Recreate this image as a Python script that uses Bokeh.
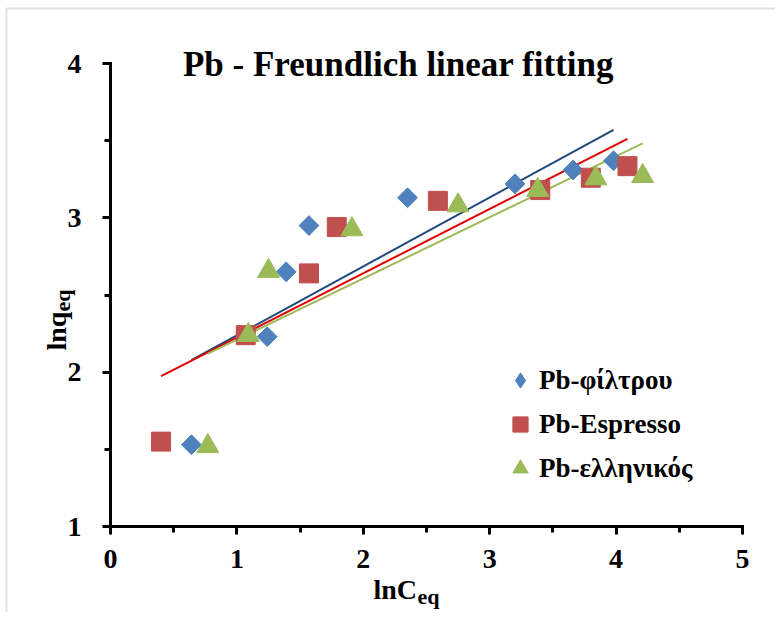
import numpy as np
from bokeh.plotting import figure
from bokeh.models import (Label, Legend, LegendItem, SingleIntervalTicker, Range1d,
                          BoxAnnotation)
from bokeh.embed import file_html
from bokeh.resources import INLINE

# ---- data ----
title_text = "Pb - Freundlich linear fitting"
x_label_main, x_label_sub = "lnC", "eq"
y_label_main, y_label_sub = "lnq", "eq"
series_names = ["Pb-φίλτρου", "Pb-Espresso", "Pb-ελληνικός"]

filtrou_x = [0.64, 1.24, 1.39, 1.57, 2.35, 3.20, 3.66, 3.98]
filtrou_y = [1.53, 2.23, 2.65, 2.95, 3.13, 3.22, 3.31, 3.37]

espresso_x = [0.40, 1.07, 1.57, 1.79, 2.59, 3.40, 3.80, 4.09]
espresso_y = [1.55, 2.24, 2.64, 2.94, 3.11, 3.18, 3.26, 3.335]

elliniko_x = [0.77, 1.09, 1.25, 1.91, 2.75, 3.38, 3.84, 4.21]
elliniko_y = [1.52, 2.24, 2.655, 2.925, 3.08, 3.18, 3.255, 3.27]

x_min, x_max = 0, 5
y_min, y_max = 1, 4

FONT = "Liberation Serif"

# ---- layout (pixels of the canvas) ----
W, H = 775, 612
AX_LEFT, AX_RIGHT = 110, 742      # pixel of x_min / x_max
AX_TOP, AX_BOTTOM = 63, 526       # pixel of y_max / y_min
ppx = (AX_RIGHT - AX_LEFT) / (x_max - x_min)
ppy = (AX_BOTTOM - AX_TOP) / (y_max - y_min)


def linear_fit(xs, ys):
    k, b = np.polyfit(xs, ys, 1)
    xx = np.array([min(xs), max(xs)])
    return xx, k * xx + b


p = figure(width=W, height=H,
           x_range=Range1d(x_min - AX_LEFT / ppx, x_max + (W - AX_RIGHT) / ppx),
           y_range=Range1d(y_min - (H - AX_BOTTOM) / ppy, y_max + AX_TOP / ppy),
           output_backend="svg", toolbar_location=None,
           min_border_left=0, min_border_right=0,
           min_border_top=0, min_border_bottom=0)
p.title.text = ""
p.title.visible = False
p.outline_line_color = None
p.grid.visible = False
p.background_fill_color = "white"
p.border_fill_color = "white"

p.xaxis.ticker = SingleIntervalTicker(interval=1, num_minor_ticks=2)
p.yaxis.ticker = SingleIntervalTicker(interval=1, num_minor_ticks=2)
p.xaxis.fixed_location = y_min
p.yaxis.fixed_location = x_min
p.xaxis.bounds = (x_min, x_max)
p.yaxis.bounds = (y_min, y_max)
for ax in (p.xaxis[0], p.yaxis[0]):
    ax.axis_line_width = 3
    ax.axis_line_color = "black"
    ax.axis_line_cap = "square"
    ax.major_tick_line_width = 3
    ax.minor_tick_line_width = 3
    ax.major_tick_line_color = "black"
    ax.minor_tick_line_color = "black"
    ax.major_tick_in = 0
    ax.minor_tick_in = 0
    ax.major_tick_out = 8
    ax.minor_tick_out = 6
    ax.major_label_text_font = FONT
    ax.major_label_text_font_style = "bold"
    ax.major_label_text_font_size = "28px"
    ax.major_label_text_color = "black"
p.yaxis.major_label_standoff = 21
p.xaxis.major_label_standoff = 15

# chart-area border (left and top edges visible)
p.add_layout(BoxAnnotation(left=6, right=W + 20, bottom=-20, top=H - 8,
                           left_units="screen", right_units="screen",
                           top_units="screen", bottom_units="screen",
                           fill_alpha=0, line_color="#a0a0a0", line_width=2))

# trend lines
line_colors = ["#1F497D", "#E00000", "#9BBB59"]
for xs, ys, c in [(filtrou_x, filtrou_y, line_colors[0]),
                  (espresso_x, espresso_y, line_colors[1]),
                  (elliniko_x, elliniko_y, line_colors[2])]:
    lx, ly = linear_fit(xs, ys)
    p.line(lx, ly, line_color=c, line_width=2)

p.scatter(filtrou_x, filtrou_y, marker="square", size=14, angle=np.pi / 4,
          fill_color="#4F81BD", line_color="#4F81BD")
r2 = p.scatter(espresso_x, espresso_y, marker="square", size=19,
               fill_color="#C0504D", line_color="#C0504D")
r3 = p.scatter(elliniko_x, elliniko_y, marker="triangle", size=22,
               fill_color="#9BBB59", line_color="#9BBB59")
# diamond-shaped legend key for the first series (hidden in the plot itself)
r1_key = p.scatter(filtrou_x, filtrou_y, marker="diamond", size=20,
                   fill_color="#4F81BD", line_color="#4F81BD", visible=False)

GLYPH = 38
legend = Legend(items=[LegendItem(label=series_names[0], renderers=[r1_key]),
                       LegendItem(label=series_names[1], renderers=[r2]),
                       LegendItem(label=series_names[2], renderers=[r3])],
                location=(501, H - (361 + 3 * GLYPH + 2 * 6)))
legend.glyph_width = GLYPH
legend.glyph_height = GLYPH
legend.label_height = GLYPH
legend.label_standoff = 0
legend.spacing = 6
legend.padding = 0
legend.margin = 0
legend.label_text_font = FONT
legend.label_text_font_style = "bold"
legend.label_text_font_size = "27px"
legend.label_text_color = "black"
legend.border_line_color = None
legend.background_fill_alpha = 0
p.add_layout(legend, "center")


def text_label(txt, px, py, size, angle=0.0, align="left"):
    return Label(x=px, y=H - py, x_units="screen", y_units="screen", text=txt,
                 angle=angle, text_font=FONT, text_font_style="bold",
                 text_font_size=size, text_align=align,
                 text_baseline="alphabetic", text_color="black")


p.add_layout(text_label(title_text, 398, 63.5, "35px", align="center"))
p.add_layout(text_label(x_label_main, 373, 589, "28px"))
p.add_layout(text_label(x_label_sub, 417, 596, "22px"))
p.add_layout(text_label(y_label_main, 56, 350, "28px", angle=np.pi / 2))
p.add_layout(text_label(y_label_sub, 62, 311, "22px", angle=np.pi / 2))

open("out.html", "w").write(file_html(p, INLINE))
